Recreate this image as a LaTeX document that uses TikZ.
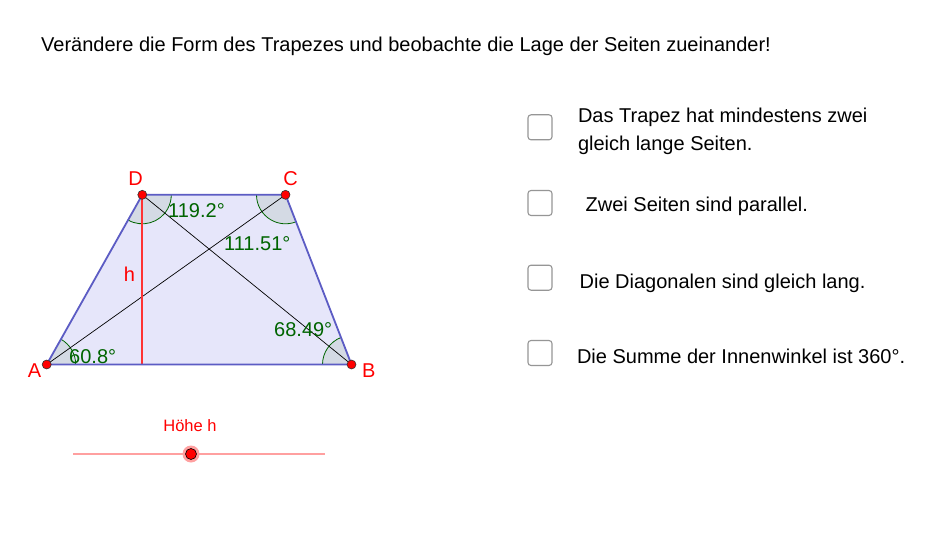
\documentclass[tikz,border=0pt]{standalone}
\usepackage{fontspec}
\setmainfont{Liberation Sans}
\usetikzlibrary{angles}
\definecolor{trapfill}{RGB}{230,230,250}
\definecolor{trapedge}{RGB}{92,92,196}
\definecolor{angfill}{RGB}{212,218,228}
\definecolor{anggreen}{RGB}{0,100,0}
\definecolor{ptred}{RGB}{255,0,0}
\definecolor{hred}{RGB}{255,51,51}
\definecolor{slidered}{RGB}{255,160,160}
\definecolor{boxgrey}{RGB}{150,150,150}
\tikzset{
  txt/.style={inner sep=0pt, anchor=base west, font=\fontsize{20}{25}\selectfont},
  ptlabel/.style={inner sep=0pt, anchor=base, text=ptred, font=\fontsize{20}{23}\selectfont},
  anglabel/.style={inner sep=0pt, anchor=base west, text=anggreen, font=\fontsize{20}{23}\selectfont},
  angsec/.style={draw=anggreen, fill=angfill, line width=0.8pt, angle radius=29pt},
  pt/.style={circle, fill=ptred, draw=black!80, line width=0.6pt, inner sep=0pt, minimum size=9pt},
  cbox/.style={draw=boxgrey, line width=1.1pt, rounded corners=3pt, minimum width=24pt, minimum height=25pt, inner sep=0pt, fill=white},
}
\begin{document}
\begin{tikzpicture}[x=1pt,y=1pt]
\useasboundingbox (0,0) rectangle (950,550);
\fill[white] (0,0) rectangle (950,550);
% title
\node[txt] (title) at (41,498.5) {Verändere die Form des Trapezes und beobachte die Lage der Seiten zueinander!};
% points
\coordinate (A) at (46.7,185.5);
\coordinate (B) at (351.5,185.5);
\coordinate (C) at (285.5,355.2);
\coordinate (D) at (142.3,355.2);
\coordinate (F) at (142.3,185.5);
% trapezoid fill
\fill[trapfill] (A) -- (B) -- (C) -- (D) -- cycle;
% angle sectors
\pic[angsec] {angle=B--A--D};
\pic[angsec] {angle=A--D--C};
\pic[angsec] {angle=D--C--B};
\pic[angsec] {angle=C--B--A};
% diagonals
\draw[black, line width=0.7pt] (A) -- (C);
\draw[black, line width=0.7pt] (B) -- (D);
% height
\draw[hred, line width=1.8pt] (D) -- (F);
% edges
\draw[trapedge, line width=1.8pt, line join=round] (A) -- (B) -- (C) -- (D) -- cycle;
% point markers
\node[pt] (pA) at (A) {};
\node[pt] (pB) at (B) {};
\node[pt] (pC) at (C) {};
\node[pt] (pD) at (D) {};
% point labels
\node[ptlabel] (lD) at (135.5,365) {D};
\node[ptlabel] (lC) at (290.7,365) {C};
\node[ptlabel] (lA) at (34.5,172.5) {A};
\node[ptlabel] (lB) at (368.7,172.5) {B};
\node[ptlabel] (lh) at (129.5,269) {h};
% angle labels
\node[anglabel] (aD) at (168,332.7) {119.2°};
\node[anglabel] (aC) at (224,299.3) {111.51°};
\node[anglabel] (aB) at (274,213.3) {68.49°};
\node[anglabel] (aA) at (69,186.7) {60.8°};
% slider
\coordinate (s1) at (73,96);
\coordinate (s2) at (325,96);
\draw[slidered, line width=1.8pt] (s1) -- (s2);
\node[circle, fill=slidered, inner sep=0pt, minimum size=17pt] (knobhalo) at (191,96) {};
\node[circle, fill=ptred, draw=black, line width=0.6pt, inner sep=0pt, minimum size=11pt] (knob) at (191,96) {};
\node[inner sep=0pt, anchor=base, text=ptred, font=\fontsize{16.5}{19}\selectfont] (slabel) at (190,119) {Höhe h};
% checkboxes
\node[cbox] (cb1) at (540,422.7) {};
\node[cbox] (cb2) at (540,347) {};
\node[cbox] (cb3) at (540,272.3) {};
\node[cbox] (cb4) at (540,197) {};
\node[txt] (t1a) at (577.8,427.5) {Das Trapez hat mindestens zwei};
\node[txt] (t1b) at (577.8,399.3) {gleich lange Seiten.};
\node[txt] (t2) at (585.5,338.3) {Zwei Seiten sind parallel.};
\node[txt] (t3) at (579.5,262) {Die Diagonalen sind gleich lang.};
\node[txt] (t4) at (576.8,186.7) {Die Summe der Innenwinkel ist 360°.};
\end{tikzpicture}
\end{document}
